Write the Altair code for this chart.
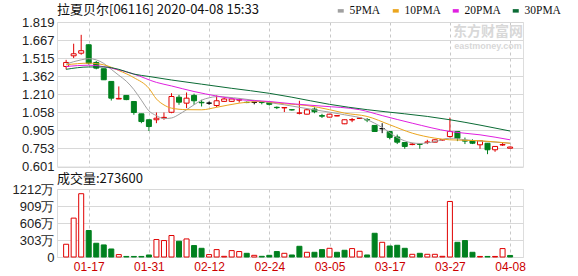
import altair as alt
import pandas as pd

# ---------------- data ----------------
dates = ["01-14", "01-15", "01-16", "01-17", "01-20", "01-21", "01-22", "01-23", "01-24", "01-29",
         "01-30", "01-31", "02-03", "02-04", "02-05", "02-06", "02-07", "02-10", "02-11", "02-12",
         "02-13", "02-14", "02-17", "02-18", "02-19", "02-20", "02-21", "02-24", "02-25", "02-26",
         "02-27", "02-28", "03-02", "03-03", "03-04", "03-05", "03-06", "03-09", "03-10", "03-11",
         "03-12", "03-13", "03-16", "03-17", "03-18", "03-19", "03-20", "03-23", "03-24", "03-25",
         "03-26", "03-27", "03-30", "03-31", "04-01", "04-02", "04-03", "04-06", "04-07", "04-08"]

open_ = [1.444, 1.534, 1.556, 1.627, 1.478, 1.425, 1.318, 1.170, 1.200, 1.149,
         1.045, 0.995, 0.995, 1.010, 1.058, 1.185, 1.135, 1.200, 1.142, 1.135,
         1.115, 1.150, 1.150, 1.160, 1.142, 1.142, 1.143, 1.140, 1.100, 1.095,
         1.080, 1.050, 1.042, 1.085, 1.030, 1.017, 1.027, 0.961, 0.993, 1.006,
         0.997, 0.947, 0.920, 0.896, 0.850, 0.803, 0.786, 0.790, 0.804, 0.806,
         0.824, 0.854, 0.896, 0.822, 0.818, 0.784, 0.797, 0.742, 0.782, 0.755]
close = [1.478, 1.551, 1.577, 1.472, 1.430, 1.332, 1.177, 1.175, 1.165, 1.056,
         0.980, 0.938, 1.008, 1.015, 1.191, 1.143, 1.177, 1.155, 1.138, 1.135,
         1.155, 1.170, 1.170, 1.165, 1.140, 1.142, 1.140, 1.125, 1.097, 1.098,
         1.078, 1.052, 1.079, 1.063, 1.025, 1.042, 1.030, 0.995, 0.997, 1.009,
         0.993, 0.896, 0.920, 0.846, 0.806, 0.770, 0.790, 0.788, 0.808, 0.826,
         0.828, 0.896, 0.840, 0.815, 0.797, 0.818, 0.742, 0.770, 0.786, 0.765]
high = [1.500, 1.636, 1.711, 1.630, 1.490, 1.425, 1.318, 1.276, 1.200, 1.149,
        1.045, 0.995, 1.056, 1.056, 1.219, 1.205, 1.225, 1.215, 1.163, 1.149,
        1.200, 1.180, 1.180, 1.177, 1.149, 1.145, 1.149, 1.145, 1.107, 1.100,
        1.085, 1.155, 1.085, 1.100, 1.045, 1.045, 1.032, 0.997, 1.010, 1.012,
        1.010, 0.947, 0.966, 0.896, 0.870, 0.803, 0.800, 0.792, 0.826, 0.830,
        0.832, 1.013, 0.896, 0.845, 0.830, 0.820, 0.797, 0.770, 0.800, 0.770]
low = [1.420, 1.515, 1.543, 1.460, 1.420, 1.330, 1.157, 1.169, 1.160, 1.037,
       0.966, 0.900, 0.966, 0.995, 1.050, 1.121, 1.093, 1.121, 1.107, 1.121,
       1.101, 1.145, 1.145, 1.140, 1.135, 1.125, 1.125, 1.115, 1.085, 1.060,
       1.072, 1.040, 1.040, 1.050, 1.010, 1.015, 1.025, 0.958, 0.975, 1.004,
       0.975, 0.896, 0.882, 0.830, 0.790, 0.750, 0.780, 0.750, 0.790, 0.806,
       0.820, 0.845, 0.815, 0.790, 0.790, 0.750, 0.705, 0.725, 0.775, 0.755]

# volume in 万 (10k shares)
volume = [227, 693, 1128, 472, 245, 215, 143, 43, 10, 10,
          10, 36, 311, 293, 383, 281, 322, 204, 155, 43,
          132, 12, 114, 97, 66, 30, 12, 30, 97, 66,
          36, 191, 84, 84, 132, 155, 84, 120, 150, 102,
          36, 423, 262, 196, 209, 155, 48, 66, 48, 48,
          12, 990, 262, 293, 84, 10, 10, 10, 150, 27.36]
vol_dir = ["up", "up", "up", "down", "down", "down", "down", "up", "down", "down",
           "down", "down", "up", "up", "up", "down", "up", "down", "down", "up",
           "up", "up", "up", "up", "down", "up", "down", "down", "down", "up",
           "down", "down", "up", "down", "down", "up", "down", "down", "up", "up",
           "down", "down", "up", "down", "down", "down", "up", "down", "up", "up",
           "up", "up", "down", "down", "down", "up", "down", "up", "up", "down"]

ma5_i = [0, 2, 3, 4, 5, 6, 7, 8, 9, 10, 11, 12, 13, 14, 15, 16, 17, 18, 19, 20, 23, 27, 29, 33, 37, 40, 42, 44, 46, 47, 49, 51, 53, 56, 59]
ma5_v = [1.465, 1.50, 1.51, 1.50, 1.47, 1.42, 1.37, 1.32, 1.25, 1.16, 1.07, 1.03, 1.005, 1.01, 1.04, 1.08, 1.121, 1.16, 1.18, 1.19, 1.175, 1.14, 1.121, 1.079, 1.037, 0.995, 0.93, 0.845, 0.80, 0.795, 0.811, 0.840, 0.826, 0.811, 0.797]
ma10_i = [0, 3, 5, 7, 9, 11, 12, 13, 14, 16, 18, 20, 23, 26, 29, 32, 35, 37, 40, 43, 46, 49, 51, 55, 59]
ma10_v = [1.458, 1.472, 1.458, 1.41, 1.35, 1.26, 1.17, 1.12, 1.093, 1.08, 1.079, 1.10, 1.135, 1.149, 1.13, 1.115, 1.08, 1.051, 1.023, 0.953, 0.882, 0.840, 0.826, 0.818, 0.797]
ma20_i = [0, 3, 6, 9, 12, 14, 17, 20, 23, 27, 30, 34, 39, 42, 46, 51, 55, 59]
ma20_v = [1.444, 1.455, 1.43, 1.38, 1.31, 1.28, 1.233, 1.195, 1.165, 1.149, 1.13, 1.11, 1.08, 1.03, 0.966, 0.896, 0.868, 0.826]
ma30_i = [0, 3, 5, 7, 9, 11, 14, 18, 22, 27, 30, 35, 40, 45, 48, 51, 55, 59]
ma30_v = [1.42, 1.44, 1.44, 1.42, 1.38, 1.36, 1.33, 1.295, 1.26, 1.218, 1.185, 1.125, 1.08, 1.045, 1.023, 0.995, 0.95, 0.90]

price_ticks = [0.601, 0.753, 0.905, 1.058, 1.210, 1.362, 1.515, 1.667, 1.819]
vol_ticks = [0, 303, 606, 909, 1212]
date_ticks = [3, 11, 19, 27, 35, 43, 51, 59]

ma_names = ["5PMA", "10PMA", "20PMA", "30PMA"]
ma_colors = ["#a0a0a0", "#eba51e", "#e020e0", "#0b6b35"]

title_text = "拉夏贝尔[06116] 2020-04-08 15:33"
vol_title = "成交量:273600"

# ---------------- frames ----------------
n = len(dates)
def direction(o, c):
    if c > o:
        return "up"
    if c < o:
        return "down"
    return "flat"

kdf = pd.DataFrame({
    "i": list(range(n)), "date": dates, "open": open_, "close": close,
    "high": high, "low": low,
    "dir": [direction(o, c) for o, c in zip(open_, close)],
})
vdf = pd.DataFrame({"i": list(range(n)), "vol": volume, "dir": vol_dir})

rows = []
for name, idxs, vals in zip(ma_names, [ma5_i, ma10_i, ma20_i, ma30_i], [ma5_v, ma10_v, ma20_v, ma30_v]):
    for a, b in zip(idxs, vals):
        rows.append({"i": a, "v": b, "s": name})
madf = pd.DataFrame(rows)

W = 466
H1 = 144.5
H2 = 68
xdom = [-0.55, 60.05]
label_expr = "[" + ",".join("'%s'" % d for d in dates) + "][datum.value]"

dir_dom = ["up", "down", "flat"]
stroke_scale = alt.Scale(domain=dir_dom, range=["#e00000", "#00801e", "#000000"])
fill_scale = alt.Scale(domain=dir_dom, range=["#ffffff", "#00801e", "#000000"])

x_scale = alt.Scale(domain=xdom, nice=False, zero=False)
x_axis_top = alt.Axis(values=date_ticks, labels=False, ticks=False, domain=False,
                      grid=True, gridDash=[3, 3], gridColor="#c8c8c8", title=None)
p_scale = alt.Scale(domain=[0.601, 1.819], nice=False, zero=False)
p_axis = alt.Axis(values=price_ticks, format=".3f", ticks=False, domain=False,
                  grid=True, gridColor="#d8d8d8", labelFontSize=13, tickCount=20,
                  labelColor="#222", labelFont="Liberation Sans", labelPadding=3,
                  labelOverlap=False, labelFlush=False,
                  minExtent=56, maxExtent=56, title=None)

wick = alt.Chart(kdf).mark_rule(strokeWidth=1).encode(
    x=alt.X("i:Q", scale=x_scale, axis=x_axis_top),
    y=alt.Y("low:Q", scale=p_scale, axis=p_axis), y2="high:Q",
    stroke=alt.Stroke("dir:N", scale=stroke_scale, legend=None))

body = alt.Chart(kdf).mark_bar(size=5, strokeWidth=1).encode(
    x=alt.X("i:Q", scale=x_scale, axis=x_axis_top),
    y=alt.Y("open:Q", scale=p_scale, axis=p_axis), y2="close:Q",
    fill=alt.Fill("dir:N", scale=fill_scale, legend=None),
    stroke=alt.Stroke("dir:N", scale=stroke_scale, legend=None))

lines = alt.Chart(madf).mark_line(strokeWidth=1, interpolate="monotone").encode(
    x=alt.X("i:Q", scale=x_scale, axis=x_axis_top),
    y=alt.Y("v:Q", scale=p_scale, axis=p_axis),
    color=alt.Color("s:N", scale=alt.Scale(domain=ma_names, range=ma_colors), sort=ma_names,
                    legend=alt.Legend(title=None, orient="none", direction="horizontal",
                                      legendX=278, legendY=-17, labelFontSize=11.5,
                                      labelFont="Liberation Serif", labelColor="#111",
                                      symbolType="stroke", symbolSize=36,
                                      symbolStrokeWidth=3.5, columnPadding=4, labelOffset=3,
                                      padding=0)))

wm1 = alt.Chart(pd.DataFrame({"t": ["东方财富网"]})).mark_text(
    font="Noto Sans CJK SC", fontSize=14, fontWeight="bold", color="#d8d8d8", align="center"
).encode(text="t:N", x=alt.value(431), y=alt.value(10))
wm2 = alt.Chart(pd.DataFrame({"t": ["eastmoney.com"]})).mark_text(
    font="Liberation Sans", fontSize=9, fontWeight="bold", color="#d8d8d8", align="center"
).encode(text="t:N", x=alt.value(431), y=alt.value(24))

top = alt.layer(wick, body, lines, wm1, wm2).resolve_scale(
    color="independent", stroke="shared"
).properties(
    width=W, height=H1,
    title=alt.TitleParams(title_text, anchor="start", frame="group", fontSize=13,
                          font="Noto Sans CJK SC", fontWeight="normal", color="#111",
                          offset=-4, dy=8))

x_bot = alt.X("i:Q", scale=x_scale,
              axis=alt.Axis(values=date_ticks, labelExpr=label_expr, ticks=False, domain=False,
                            grid=True, gridDash=[3, 3], gridColor="#c8c8c8", labelColor="#cc0000",
                            labelFontSize=12, labelFont="Liberation Sans", labelPadding=4,
                            title=None))
y_vol = alt.Y("vol:Q", scale=alt.Scale(domain=[0, 1212], nice=False),
              axis=alt.Axis(values=vol_ticks, tickCount=20,
                            labelExpr="datum.value == 0 ? '0' : datum.value + '万'",
                            ticks=False, domain=False, grid=True, gridColor="#d8d8d8",
                            labelFontSize=13, labelColor="#222", labelFont="Liberation Sans",
                            labelOverlap=False, labelFlush=False,
                            labelPadding=3, minExtent=56, maxExtent=56, title=None))

vbars = alt.Chart(vdf).mark_bar(size=5, strokeWidth=1).encode(
    x=x_bot, y=y_vol,
    fill=alt.Fill("dir:N", scale=fill_scale, legend=None),
    stroke=alt.Stroke("dir:N", scale=stroke_scale, legend=None),
)
vttl = alt.Chart(pd.DataFrame({"t": [vol_title]})).mark_text(
    font="Noto Sans CJK SC", fontSize=13, color="#111", align="left", baseline="middle"
).encode(text="t:N", x=alt.value(0), y=alt.value(-10))

bottom = alt.layer(vbars, vttl).properties(width=W, height=H2)

chart = alt.vconcat(top, bottom, spacing=22, bounds="flush").properties(
    padding={"left": 0, "top": 3, "right": 5, "bottom": 2}
).configure_view(stroke="#999", strokeWidth=1).configure(background="white")

chart.save("out.html", embed_options={"renderer": "svg", "actions": False})
